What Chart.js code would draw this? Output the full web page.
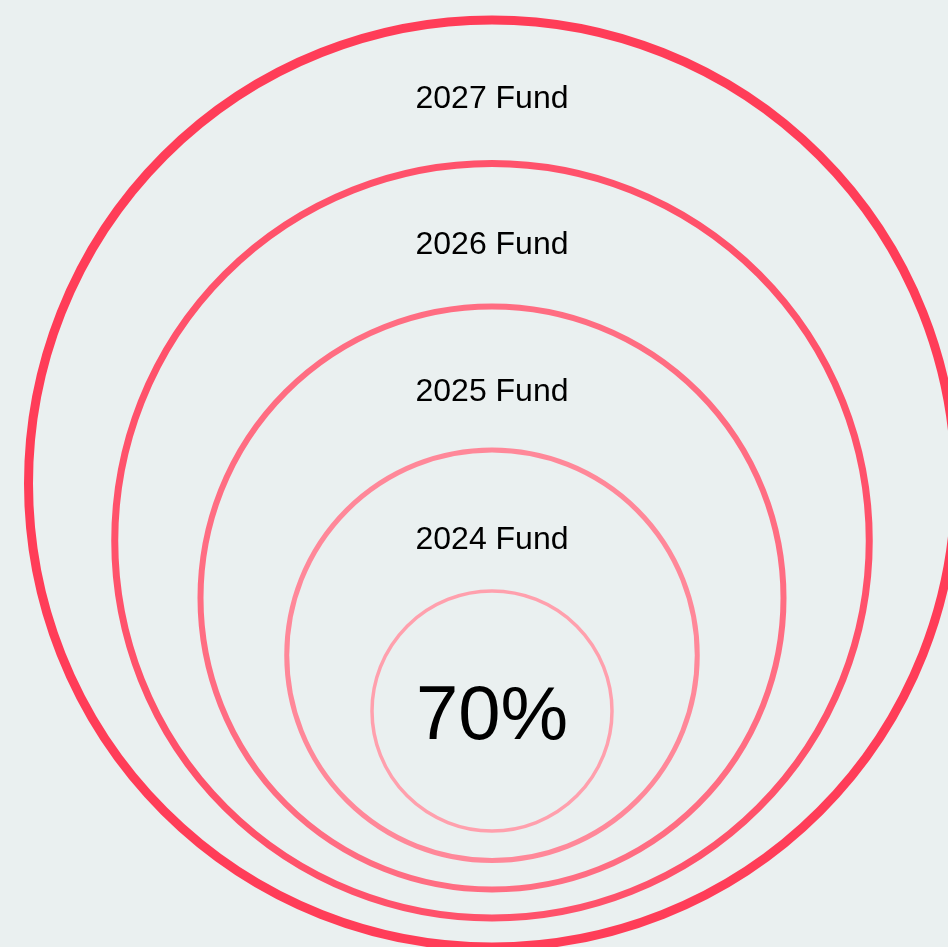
<!DOCTYPE html>
<html>
<head>
<meta charset="utf-8">
<script src="https://cdn.jsdelivr.net/npm/chart.js@4"></script>
<style>
  html, body { margin: 0; padding: 0; background: #eaf0f0; }
  #wrap { width: 948px; height: 947px; }
</style>
</head>
<body>
<div id="wrap"><canvas id="fundChart"></canvas></div>
<script>
// circles, from inner to outer
const circleLabels = ['70%', '2024 Fund', '2025 Fund', '2026 Fund', '2027 Fund'];
const centerX = [492, 492, 492, 492, 492];
const centerY = [711, 655.25, 598, 540.75, 483.5];
const radii = [120, 205.25, 291.5, 377.25, 463.5];
const labelY = [718, 540, 392, 245, 99];

const ringColors = ['#ffa0ad', '#ff8899', '#ff6d82', '#ff526b', '#ff3d58'];
const ringWidths = [3.5, 5, 6, 7, 9];
const labelFonts = ['76px "Liberation Sans"', '32px "Liberation Sans"', '32px "Liberation Sans"', '32px "Liberation Sans"', '32px "Liberation Sans"'];

const labelPlugin = {
  id: 'ringLabels',
  afterDatasetsDraw(chart) {
    const ctx = chart.ctx;
    const x = chart.scales.x, y = chart.scales.y;
    ctx.save();
    ctx.fillStyle = '#000';
    ctx.textAlign = 'center';
    ctx.textBaseline = 'middle';
    circleLabels.forEach((t, i) => {
      ctx.font = labelFonts[i];
      ctx.fillText(t, x.getPixelForValue(centerX[i]), y.getPixelForValue(labelY[i]));
    });
    ctx.restore();
  }
};

document.addEventListener("DOMContentLoaded", () => {
  new Chart(document.getElementById("fundChart"), {
    type: "scatter",
    data: {
      datasets: [{
        data: centerX.map((cx, i) => ({ x: cx, y: centerY[i] })),
        clip: false,
        pointRadius: c => {
          const x = c.chart.scales.x;
          return x.getPixelForValue(radii[c.dataIndex]) - x.getPixelForValue(0);
        },
        pointBackgroundColor: 'rgba(0,0,0,0)',
        pointBorderColor: c => ringColors[c.dataIndex],
        pointBorderWidth: c => ringWidths[c.dataIndex]
      }]
    },
    options: {
      responsive: true,
      maintainAspectRatio: false,
      animation: false,
      events: [],
      layout: { padding: 0 },
      plugins: {
        legend: { display: false },
        tooltip: { enabled: false }
      },
      scales: {
        x: { display: false, min: 0, max: 948 },
        y: { display: false, min: 0, max: 947, reverse: true }
      }
    },
    plugins: [labelPlugin]
  });
});
</script>
</body>
</html>
